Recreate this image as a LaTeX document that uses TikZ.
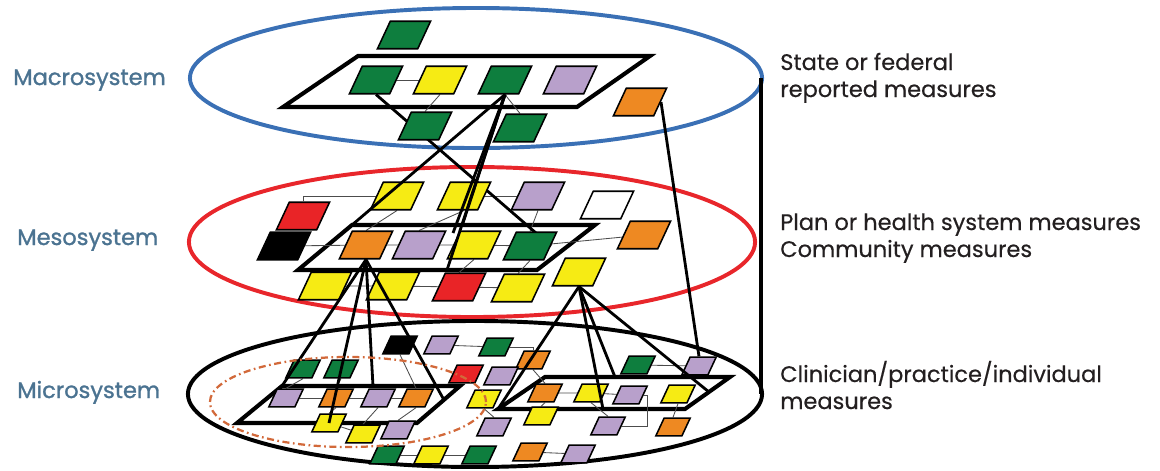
\documentclass[tikz,border=0pt]{standalone}
\usepackage{fontspec}
\setmainfont{Poppins}
\newfontfamily\levelfont{Poppins}[FakeBold=1.2]
\newfontfamily\sidefont{Poppins}[FakeBold=0.4]
\usetikzlibrary{shapes.geometric}

\definecolor{mgreen}{RGB}{14,126,62}
\definecolor{myellow}{RGB}{246,235,20}
\definecolor{mpurple}{RGB}{184,160,203}
\definecolor{morange}{RGB}{238,137,34}
\definecolor{mred}{RGB}{233,36,39}
\definecolor{macroblue}{RGB}{58,112,181}
\definecolor{mesored}{RGB}{232,38,43}
\definecolor{labelblue}{RGB}{75,115,145}
\definecolor{dashorange}{RGB}{210,105,58}
\definecolor{textblack}{RGB}{35,31,32}

\pgfdeclarelayer{back}
\pgfdeclarelayer{links}
\pgfsetlayers{back,links,main}

\tikzset{
  mbox/.style={trapezium, trapezium left angle=65, trapezium right angle=115,
    draw=black, line width=1.1pt, inner sep=1pt,
    minimum width=1.33cm, minimum height=0.55cm, fill=#1},
  sbox/.style={mbox=#1, minimum width=0.86cm, minimum height=0.4cm},
  thinlink/.style={draw=black!70, line width=0.6pt},
  thicklink/.style={draw=black, line width=2pt},
  platform/.style={draw=black, line width=2.9pt, line join=miter},
  levelring/.style={line width=2.8pt},
  levellabel/.style={anchor=base west, inner sep=0pt, text=labelblue,
    font=\levelfont\fontsize{16}{19}\selectfont},
  sidetext/.style={anchor=base west, inner sep=0pt, text=textblack,
    font=\sidefont\fontsize{16}{19}\selectfont}
}

\begin{document}
\begin{tikzpicture}[x=0.025cm, y=-0.025cm]

    \useasboundingbox (0,0) rectangle (1160,470);

    % Corners of the three kinds of platforms
    \coordinate (macP1) at (283,107);
    \coordinate (macP2) at (577,107);
    \coordinate (macP3) at (650,56);
    \coordinate (macP4) at (358,56);
    \coordinate (mesP1) at (298,270);
    \coordinate (mesP2) at (537,270);
    \coordinate (mesP3) at (595,225);
    \coordinate (mesP4) at (352,225);
    \coordinate (micLP1) at (237,423);
    \coordinate (micLP2) at (417,423);
    \coordinate (micLP3) at (460,386);
    \coordinate (micLP4) at (282,386);
    \coordinate (micRP1) at (498,409);
    \coordinate (micRP2) at (685,409);
    \coordinate (micRP3) at (730,377);
    \coordinate (micRP4) at (545,377);

    % Points where the long links meet the platforms
    \coordinate (mesFoot1) at (447,270);
    \coordinate (mesFoot2) at (453,233);
    \coordinate (mesFoot3) at (462,226);
    \coordinate (micLFoot1) at (373,386);
    \coordinate (micLFoot2) at (444,400);
    \coordinate (micRFoot1) at (603,409);
    \coordinate (micRFoot2) at (615,377);
    \coordinate (micRFoot3) at (709,392);

    % The three level rings and the spine on the right
    \begin{pgfonlayer}{back}
    \draw[levelring, macroblue] (476,78) ellipse [x radius=7.15cm, y radius=1.75cm];
    \draw[levelring, mesored] (472,242) ellipse [x radius=7.075cm, y radius=1.875cm];
    \draw[levelring, black] (475,394) ellipse [x radius=7.175cm, y radius=1.825cm];
    \draw[line width=2.8pt] (761,78) -- (761,394);

    % Platforms
    \draw[platform] (macP1) -- (macP2) -- (macP3) -- (macP4) -- cycle;
    \draw[platform] (mesP1) -- (mesP2) -- (mesP3) -- (mesP4) -- cycle;
    \draw[platform] (micLP1) -- (micLP2) -- (micLP3) -- (micLP4) -- cycle;
    \draw[platform] (micRP1) -- (micRP2) -- (micRP3) -- (micRP4) -- cycle;
    \end{pgfonlayer}

    % Macrosystem measures
    \node[mbox=mgreen] (mac1) at (404,35) {};
    \node[mbox=mgreen] (mac2) at (376,80) {};
    \node[mbox=myellow] (mac3) at (440,80) {};
    \node[mbox=mgreen] (mac4) at (505,80) {};
    \node[mbox=mpurple] (mac5) at (570,80) {};
    \node[mbox=morange] (mac6) at (640,102) {};
    \node[mbox=mgreen] (mac7) at (425,126) {};
    \node[mbox=mgreen] (mac8) at (520,128) {};

    % Mesosystem measures
    \node[mbox=mred] (mes1) at (303,216) {};
    \node[mbox=myellow] (mes2) at (397,196) {};
    \node[mbox=myellow] (mes3) at (464,196) {};
    \node[mbox=mpurple] (mes4) at (538,196) {};
    \node[mbox=white] (mes5) at (607,205) {};
    \node[mbox=black] (mes6) at (284,246) {};
    \node[mbox=morange] (mes7) at (366,245) {};
    \node[mbox=mpurple] (mes8) at (419,245) {};
    \node[mbox=myellow] (mes9) at (474,245) {};
    \node[mbox=mgreen] (mes10) at (530,246) {};
    \node[mbox=morange] (mes11) at (644,235) {};
    \node[mbox=myellow] (mes12) at (325,286) {};
    \node[mbox=myellow] (mes13) at (393,286) {};
    \node[mbox=mred] (mes14) at (459,287) {};
    \node[mbox=myellow] (mes15) at (518,288) {};
    \node[mbox=myellow] (mes16) at (579,272) {};

    % Microsystem measures
    \node[sbox=black] (mic1) at (400,345) {};
    \node[sbox=mpurple] (mic2) at (441,345) {};
    \node[sbox=mgreen] (mic3) at (496,347) {};
    \node[sbox=morange] (mic4) at (533,360) {};
    \node[sbox=mred] (mic5) at (466,374) {};
    \node[sbox=mpurple] (mic6) at (501,376) {};
    \node[sbox=mgreen] (mic7) at (638,365) {};
    \node[sbox=mpurple] (mic8) at (699,366) {};
    \node[sbox=mgreen] (mic9) at (303,369) {};
    \node[sbox=mgreen] (mic10) at (341,369) {};
    \node[sbox=mpurple] (mic11) at (286,398) {};
    \node[sbox=morange] (mic12) at (336,398) {};
    \node[sbox=mpurple] (mic13) at (378,398) {};
    \node[sbox=morange] (mic14) at (416,398) {};
    \node[sbox=myellow] (mic15) at (329,423) {};
    \node[sbox=myellow] (mic16) at (363,434) {};
    \node[sbox=mpurple] (mic17) at (398,430) {};
    \node[sbox=myellow] (mic18) at (484,399) {};
    \node[sbox=mpurple] (mic19) at (494,427) {};
    \node[sbox=mgreen] (mic20) at (387,455) {};
    \node[sbox=myellow] (mic21) at (431,455) {};
    \node[sbox=mgreen] (mic22) at (479,455) {};
    \node[sbox=morange] (mic23) at (530,452) {};
    \node[sbox=mpurple] (mic24) at (578,454) {};
    \node[sbox=morange] (mic25) at (545,393) {};
    \node[sbox=myellow] (mic26) at (591,393) {};
    \node[sbox=mpurple] (mic27) at (630,395) {};
    \node[sbox=myellow] (mic28) at (678,394) {};
    \node[sbox=myellow] (mic29) at (541,416) {};
    \node[sbox=mpurple] (mic30) at (608,426) {};
    \node[sbox=morange] (mic31) at (673,427) {};

    % Thin links inside each level, kept behind the boxes
    \begin{pgfonlayer}{links}
    \draw[thinlink] (mac2) -- (mac3);
    \draw[thinlink] (mac3.south) -- (mac7.north);
    \draw[thinlink] (mac4.south) -- (mac8.north);

    \draw[thinlink] (mes1.north) |- (mes2.west);
    \draw[thinlink] (mes3) -- (mes4);
    \draw[thinlink] (mes2.south) -- (mes7.north);
    \draw[thinlink] (mes3.south) -- (mes8.north);
    \draw[thinlink] (mes4.south) -- (mes10.north);
    \draw[thinlink] (mes6) -- (mes7) -- (mes8) -- (mes9) -- (mes10) -- (mes11);
    \draw[thinlink] (mes12) -- (mes13) -- (mes14) -- (mes15);
    \draw[thinlink] (mes9.south) -- (mes14.north);
    \draw[thinlink] (mes10.south) -- (mes15.north);

    \draw[thinlink] (mic2) -- (mic3);
    \draw[thinlink] (mic3.east) -| (mic4.north);
    \draw[thinlink] (mic4.south) -- (mic25.north);
    \draw[thinlink] (mic7) -- (mic8);
    \draw[thinlink] (mic9.south) -- (mic11.north);
    \draw[thinlink] (mic10.south) -- (mic12.north);
    \draw[thinlink] (mic11) -- (mic12) -- (mic13) -- (mic14);
    \draw[thinlink] (mic12.south) -- (mic15.north);
    \draw[thinlink] (mic15) -- (mic16);
    \draw[thinlink] (mic13.south) -- (mic16.north);
    \draw[thinlink] (mic14.south) -- (mic17.north);
    \draw[thinlink] (mic1.south) -- (mic14.north);
    \draw[thinlink] (mic18.south) -- (mic19.north);
    \draw[thinlink] (mic20) -- (mic21) -- (mic22);
    \draw[thinlink] (mic23) -- (mic24);
    \draw[thinlink] (mic25) -- (mic26) -- (mic27);
    \draw[thinlink] (mic27.east) -- ++(4,0) |- (mic30.east);
    \draw[thinlink] (mic26.south) -- (mic30.north);
    \draw[thinlink] (mic25.south) -- (mic29.north);
    \draw[thinlink] (mic28.south) -- (mic31.north);

    % This long link runs behind the green box below the platform
    \draw[thicklink] (mac2.south) -- (mes10.east);
    \end{pgfonlayer}

    % Long links from the macro level down to the meso level
    \draw[thicklink] (mac4.south) -- (mesP4);
    \draw[thicklink] (mac4.south) -- (mesFoot1);
    \draw[thicklink] (mac4.south) -- (mesFoot2);
    \draw[thicklink] (mac4.south) -- (mesFoot3);
    \draw[thicklink] (mac6.east) -- (mic8.north);

    % Long links from the meso level down to the micro level
    \draw[thicklink] (mes7.south) -- (micLP4);
    \draw[thicklink] (mes7.south) -- (mic15.center);
    \draw[thicklink] (mes7.south) -- (micLFoot1);
    \draw[thicklink] (mes7.south) -- (micLFoot2);
    \draw[thicklink] (mes16.south) -- (micRP1);
    \draw[thicklink] (mes16.south) -- (micRFoot1);
    \draw[thicklink] (mes16.south) -- (micRFoot2);
    \draw[thicklink] (mes16.south) -- (micRFoot3);

    % Dash-dot ring round one practice group
    \draw[dashorange, line width=1.6pt, dash pattern=on 5pt off 2.5pt on 1.2pt off 2.5pt]
      (348,402) ellipse [x radius=3.45cm, y radius=1.125cm];

    % Level names on the left
    \node[levellabel] (macName) at (13,85) {Macrosystem};
    \node[levellabel] (mesName) at (17,245) {Mesosystem};
    \node[levellabel] (micName) at (17,398) {Microsystem};

    % Kinds of measures on the right
    \node[sidetext] (macText1) at (780,70) {State or federal};
    \node[sidetext] (macText2) at (780,97) {reported measures};
    \node[sidetext] (mesText1) at (780,230) {Plan or health system measures};
    \node[sidetext] (mesText2) at (780,257) {Community measures};
    \node[sidetext] (micText1) at (780,382) {Clinician/practice/individual};
    \node[sidetext] (micText2) at (780,409) {measures};

\end{tikzpicture}
\end{document}
